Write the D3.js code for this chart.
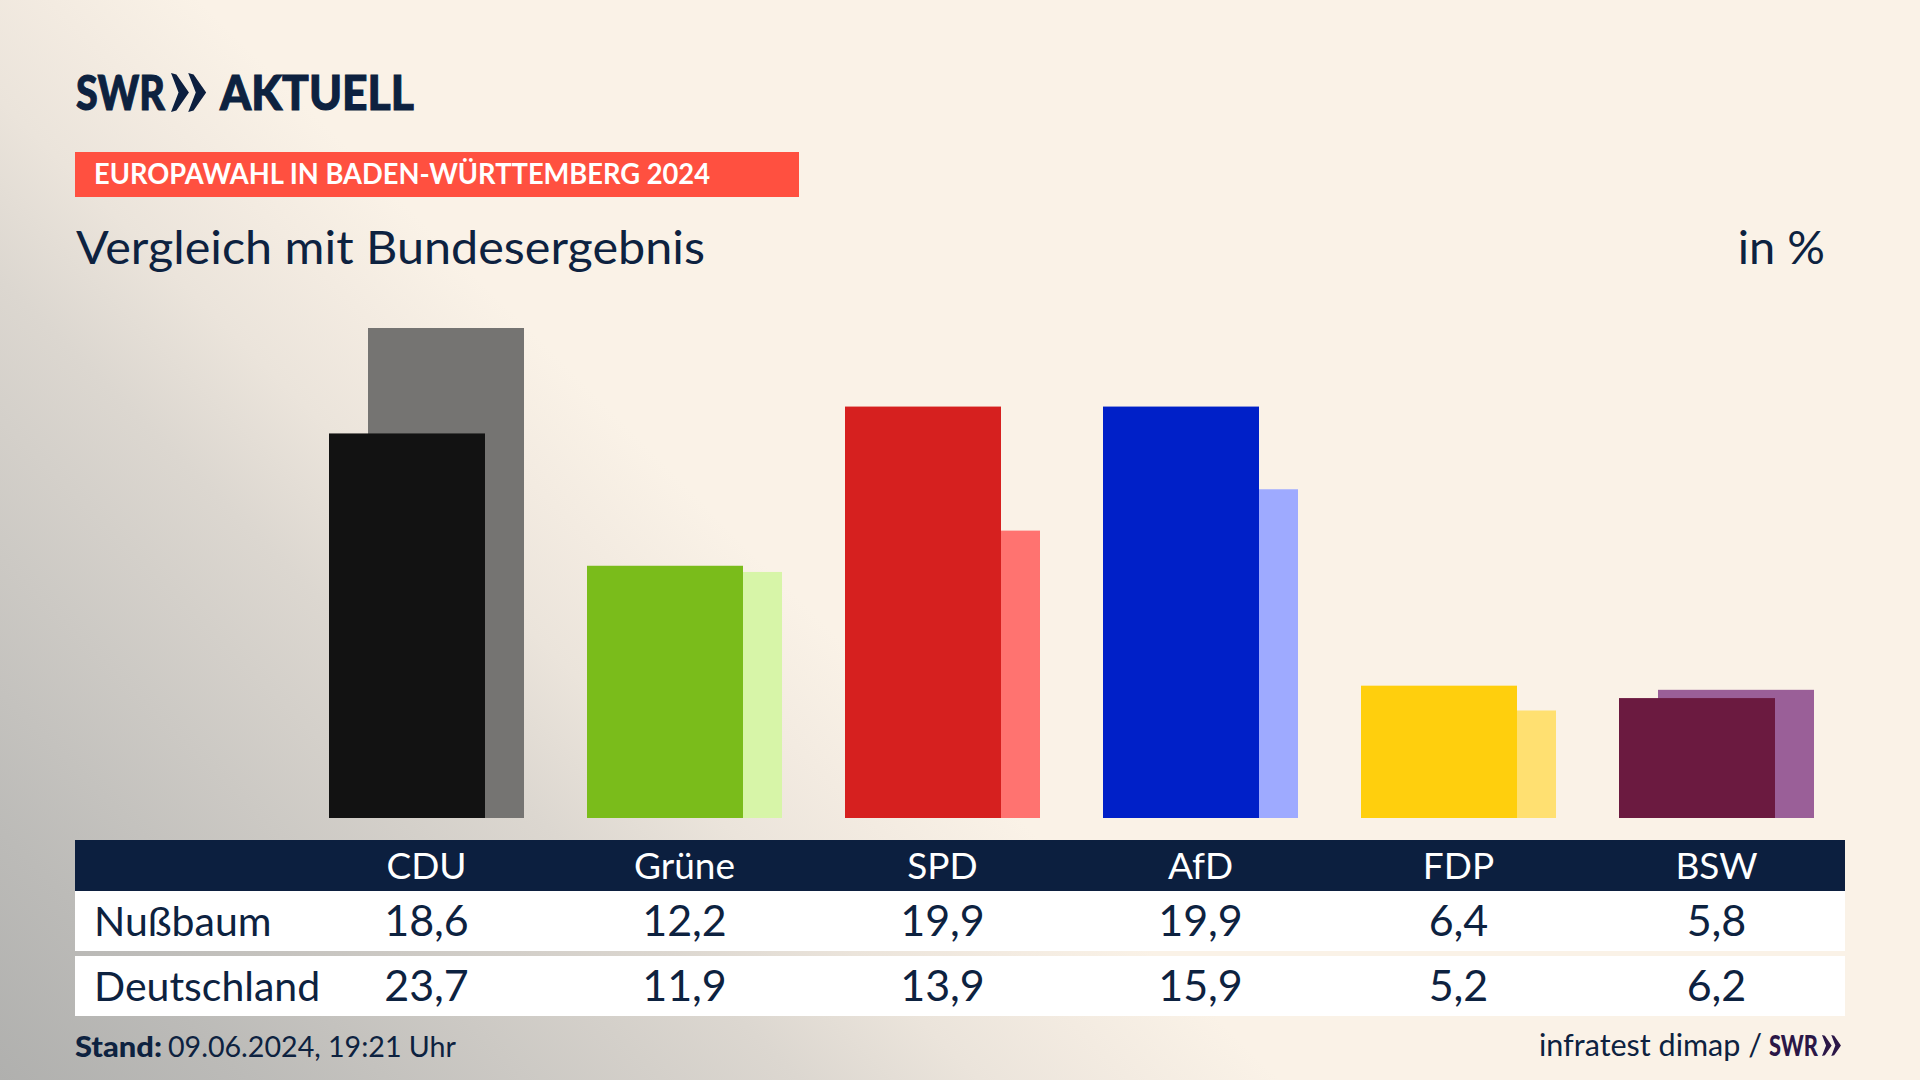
<!DOCTYPE html>
<html lang="de">
<head>
<meta charset="utf-8">
<title>Europawahl in Baden-Württemberg 2024</title>
<script src="https://cdn.jsdelivr.net/npm/d3@7"></script>
<style>
    html, body { margin: 0; padding: 0; background: #faf2e7; overflow: hidden; }
    svg { display: block; }
    text { font-family: Lato, "Noto Sans", sans-serif; fill: #0d2240; }
</style>
</head>
<body>
<div id="chart"></div>
<script>
const categories = ['CDU', 'Grüne', 'SPD', 'AfD', 'FDP', 'BSW'];
const regionValues = [18.6, 12.2, 19.9, 19.9, 6.4, 5.8];
const nationalValues = [23.7, 11.9, 13.9, 15.9, 5.2, 6.2];
const rowLabels = ['Nußbaum', 'Deutschland'];

const frontColors = ['#121212', '#7abc1b', '#d6201f', '#0020c8', '#ffcf0d', '#6b1a40'];
const backColors = ['#757472', '#d7f5a8', '#ff7370', '#9eaaff', '#ffe071', '#9a5f98'];

const width = 1920;
const height = 1080;
const navy = '#0c1f3f';

const svg = d3.select('#chart').append('svg')
    .attr('width', width)
    .attr('height', height);

// background: diagonal grey fade towards the bottom left corner
const glow = svg.append('defs').append('linearGradient')
    .attr('id', 'glow')
    .attr('gradientUnits', 'userSpaceOnUse')
    .attr('x1', 640).attr('y1', 440)
    .attr('x2', 0).attr('y2', height);
[[0, '#faf2e7'], [0.117, '#f3ebe1'], [0.234, '#ebe4db'], [0.375, '#dcd7d0'], [0.805, '#bcbbb8'], [1, '#b0b0ae']].forEach(([o, c]) => {
    glow.append('stop').attr('offset', o).attr('stop-color', c);
});
svg.append('rect').attr('width', width).attr('height', height).attr('fill', 'url(#glow)');

const x = d3.scaleBand()
    .domain(categories)
    .range([329, 1814])
    .paddingInner(63 / 258);
const y = d3.scaleLinear()
    .domain([0, 23.7])
    .range([818, 328]);
const frontColor = d3.scaleOrdinal(categories, frontColors);
const backColor = d3.scaleOrdinal(categories, backColors);
const barWidth = 156;
const comma = (v) => d3.format('.1f')(v).replace('.', ',');

// back bars first, they sit behind and to the right
svg.append('g').selectAll('rect')
    .data(categories)
    .join('rect')
        .attr('x', (d) => x(d) + x.bandwidth() - barWidth)
        .attr('y', (d, i) => y(nationalValues[i]))
        .attr('width', barWidth)
        .attr('height', (d, i) => y(0) - y(nationalValues[i]))
        .attr('fill', (d) => backColor(d));

svg.append('g').selectAll('rect')
    .data(categories)
    .join('rect')
        .attr('x', (d) => x(d))
        .attr('y', (d, i) => y(regionValues[i]))
        .attr('width', barWidth)
        .attr('height', (d, i) => y(0) - y(regionValues[i]))
        .attr('fill', (d) => frontColor(d));

// table
const tableLeft = 75;
const tableWidth = 1770;
svg.append('rect').attr('x', tableLeft).attr('y', 840).attr('width', tableWidth).attr('height', 51).attr('fill', navy);
svg.append('rect').attr('x', tableLeft).attr('y', 891).attr('width', tableWidth).attr('height', 60).attr('fill', '#fff');
svg.append('rect').attr('x', tableLeft).attr('y', 956).attr('width', tableWidth).attr('height', 60).attr('fill', '#fff');

const center = (d) => x(d) + x.bandwidth() / 2;

svg.append('g').selectAll('text')
    .data(categories)
    .join('text')
        .attr('x', center)
        .attr('y', 879)
        .attr('text-anchor', 'middle')
        .attr('font-size', 37)
        .style('fill', '#fff')
        .text((d) => d);

[regionValues, nationalValues].forEach((values, row) => {
    const baseline = row === 0 ? 936 : 1001;
    svg.append('text')
        .attr('x', 94)
        .attr('y', baseline)
        .attr('font-size', 41)
        .text(rowLabels[row]);
    svg.append('g').selectAll('text')
        .data(categories)
        .join('text')
            .attr('x', center)
            .attr('y', baseline)
            .attr('text-anchor', 'middle')
            .attr('font-size', 43)
            .text((d, i) => comma(values[i]));
});

// header
const chevrons = (g, left, top, h, fill) => {
    const w = h * 0.46;
    [0, w * 0.96].forEach((dx) => {
        g.append('path')
            .attr('transform', `translate(${left + dx} ${top})`)
            .attr('d', `M0 0 L${w * 0.3} ${h * 0.04} L${w} ${h / 2} L${w * 0.3} ${h * 0.96} L0 ${h} L${w * 0.42} ${h / 2} Z`)
            .attr('fill', fill);
    });
};

svg.append('text')
    .attr('x', 76).attr('y', 110)
    .attr('font-size', 48).attr('font-weight', 900)
    .attr('textLength', 89).attr('lengthAdjust', 'spacingAndGlyphs')
    .style('stroke', navy).style('stroke-width', 1)
    .text('SWR');
chevrons(svg, 171, 73, 39, navy);
svg.append('text')
    .attr('x', 220).attr('y', 110)
    .attr('font-size', 48).attr('font-weight', 900)
    .attr('textLength', 194).attr('lengthAdjust', 'spacingAndGlyphs')
    .style('stroke', navy).style('stroke-width', 1)
    .text('AKTUELL');

svg.append('rect').attr('x', 75).attr('y', 152).attr('width', 724).attr('height', 45).attr('fill', '#ff5040');
svg.append('text')
    .attr('x', 94).attr('y', 184)
    .attr('font-size', 28).attr('font-weight', 700)
    .attr('textLength', 616).attr('lengthAdjust', 'spacingAndGlyphs')
    .style('fill', '#fff')
    .text('EUROPAWAHL IN BADEN-WÜRTTEMBERG 2024');

svg.append('text')
    .attr('x', 76).attr('y', 264)
    .attr('font-size', 47)
    .attr('textLength', 629).attr('lengthAdjust', 'spacingAndGlyphs')
    .text('Vergleich mit Bundesergebnis');
svg.append('text')
    .attr('x', 1825).attr('y', 264)
    .attr('text-anchor', 'end')
    .attr('font-size', 47)
    .text('in %');

// footer
svg.append('text')
    .attr('x', 75).attr('y', 1057)
    .attr('font-size', 29).attr('font-weight', 900)
    .attr('textLength', 87).attr('lengthAdjust', 'spacingAndGlyphs')
    .text('Stand:');
svg.append('text')
    .attr('x', 168).attr('y', 1057)
    .attr('font-size', 29)
    .attr('textLength', 288).attr('lengthAdjust', 'spacingAndGlyphs')
    .text('09.06.2024, 19:21 Uhr');
svg.append('text')
    .attr('x', 1539).attr('y', 1056)
    .attr('font-size', 30)
    .attr('textLength', 223).attr('lengthAdjust', 'spacingAndGlyphs')
    .text('infratest dimap /');
svg.append('text')
    .attr('x', 1769).attr('y', 1056)
    .attr('font-size', 29).attr('font-weight', 900)
    .attr('textLength', 49).attr('lengthAdjust', 'spacingAndGlyphs')
    .style('fill', '#2b1747')
    .text('SWR');
chevrons(svg, 1822, 1035, 21, '#2b1747');
</script>
</body>
</html>
